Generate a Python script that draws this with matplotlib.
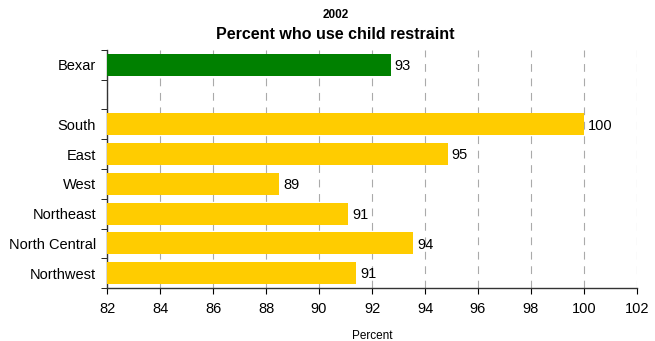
import numpy as np
import matplotlib
matplotlib.use("Agg")
import matplotlib.pyplot as plt

# Data (blank row is the spacer under Bexar)
categories = ["Bexar", "", "South", "East", "West", "Northeast", "North Central", "Northwest"]
values = [92.7, np.nan, 100.0, 94.85, 88.5, 91.1, 93.55, 91.4]
value_labels = ["93", "", "100", "95", "89", "91", "94", "91"]
is_county = [True, False, False, False, False, False, False, False]

plt.rcParams["font.family"] = ["Liberation Sans", "DejaVu Sans"]

fig = plt.figure(figsize=(6.55, 3.41), dpi=100)
ax = fig.add_axes([0.1634, 0.1554, 0.8091, 0.698])

x0 = 82
ypos = np.arange(len(categories))
for y, v, lab, county in zip(ypos, values, value_labels, is_county):
    if np.isnan(v):
        continue
    color = "#008000" if county else "#FFCC00"
    ax.barh(y, v - x0, left=x0, height=0.74, color=color, zorder=3)
    ax.text(v + 0.15, y + 0.04, lab, va="center", ha="left", fontsize=10.5, zorder=4)

ax.set_xlim(82, 102)
ax.set_ylim(len(categories) - 0.5, -0.5)
ax.set_xticks(np.arange(82, 103, 2))
ax.set_yticks(ypos)
ax.set_yticklabels(categories)
ax.set_yticks(np.arange(-0.5, len(categories), 1), minor=True)
ax.tick_params(axis="y", which="major", length=0, labelsize=10.5, pad=8)
ax.tick_params(axis="y", which="minor", length=4, direction="out")
ax.tick_params(axis="x", length=4, direction="out", labelsize=10.5, pad=6)

ax.xaxis.grid(True, linestyle=(0, (7, 6)), color="#aaaaaa", linewidth=0.8, zorder=0)
for s in ["top", "right"]:
    ax.spines[s].set_visible(False)
for s in ["left", "bottom"]:
    ax.spines[s].set_color("#333333")
    ax.spines[s].set_linewidth(1.0)

fig.text(0.512, 0.955, "2002", ha="center", va="center", fontsize=8.5, fontweight="bold")
fig.text(0.512, 0.898, "Percent who use child restraint", ha="center", va="center",
         fontsize=11.5, fontweight="bold")
ax.set_xlabel("Percent", fontsize=8.5, labelpad=10)

fig.savefig("out.png", dpi=100)
